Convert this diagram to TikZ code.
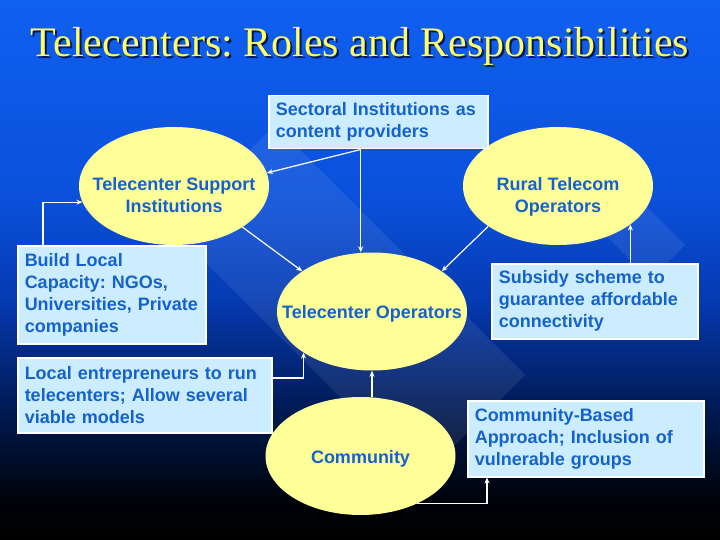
\documentclass[tikz,border=0pt]{standalone}
\usepackage{fontspec}
\setmainfont{Liberation Serif}
\setsansfont{Liberation Sans}
\usetikzlibrary{shapes.geometric,arrows.meta}
\frenchspacing
\definecolor{slidetop}{RGB}{16,96,242}
\definecolor{slideup}{RGB}{10,80,218}
\definecolor{slidemid}{RGB}{5,58,178}
\definecolor{slidelow}{RGB}{2,34,108}
\definecolor{slidedeep}{RGB}{0,18,58}
\definecolor{ovalfill}{RGB}{255,255,153}
\definecolor{boxfill}{RGB}{204,236,255}
\definecolor{labelblue}{RGB}{22,98,204}
\definecolor{titleyellow}{RGB}{255,255,102}
\definecolor{titleshade}{RGB}{0,22,80}
\pgfdeclareverticalshading{slidebg}{100bp}{color(0bp)=(black); color(25bp)=(black); color(28.7bp)=(black!85!slidedeep); color(34.3bp)=(slidedeep); color(39.8bp)=(slidelow); color(47.2bp)=(slidemid); color(56.5bp)=(slideup); color(75bp)=(slidetop); color(100bp)=(slidetop)}
\newcommand{\ovaltext}[2][-7pt]{\makebox[0pt]{\raisebox{#1}[0pt][0pt]{\begin{tabular}{@{}c@{}}#2\end{tabular}}}}
\begin{document}
\begin{tikzpicture}[x=1pt,y=-1pt,
    oval/.style={ellipse,fill=ovalfill,minimum width=190pt,minimum height=118pt,inner sep=0pt,text=labelblue,font=\sffamily\bfseries\fontsize{18}{22}\selectfont},
    note/.style={rectangle,draw=white,line width=1.5pt,fill=boxfill,anchor=north west,inner xsep=7pt,inner ysep=0pt,text=labelblue,align=left,font=\sffamily\bfseries\fontsize{18}{22}\selectfont},
    flow/.style={draw=white,line width=1.2pt,-{Stealth[length=6pt,width=5pt]}},
    stripe/.style={fill=white,opacity=0.08},
    headline/.style={anchor=base,font=\fontsize{42}{48}\selectfont}]
    \shade[shading=slidebg] (0,0) rectangle (720,540);
    \fill[stripe] (171.5,228.5) -- (275,125) -- (525,375) -- (421.5,478.5) -- cycle;
    \fill[stripe] (535,165) -- (570,130) -- (685,245) -- (650,280) -- cycle;

    \node[headline,text=titleshade] (titleshadow) at (362,59) {Telecenters: Roles and Responsibilities};
    \node[headline,text=titleyellow] (title) at (360,57) {Telecenters: Roles and Responsibilities};

    \node[oval] (tsi) at (174,186) {\ovaltext[-15.5pt]{Telecenter Support\\Institutions}};
    \node[oval] (rural) at (558,186) {\ovaltext[-15.5pt]{Rural Telecom\\Operators}};
    \node[oval] (tco) at (372,311.5) {\ovaltext{Telecenter Operators}};
    \node[oval] (comm) at (360.5,456) {\ovaltext{Community}};

    \node[note,text width=205pt,minimum height=53pt] (sect) at (268,95) {Sectoral Institutions as\\content providers};
    \node[note,text width=174pt,minimum height=98pt] (build) at (17,245) {Build Local\\Capacity: NGOs,\\Universities, Private\\companies};
    \node[note,text width=240pt,minimum height=75pt] (local) at (17,357) {Local entrepreneurs to run\\telecenters; Allow several\\viable models};
    \node[note,text width=192pt,minimum height=75pt] (subsidy) at (491,263) {Subsidy scheme to\\guarantee affordable\\connectivity};
    \node[note,text width=222pt,minimum height=76pt] (cba) at (467,400) {Community-Based\\Approach; Inclusion of\\vulnerable groups};

    \draw[flow] ([xshift=-17.5pt]sect.south) -- ([xshift=-17.5pt]sect.south |- tco.north);
    \draw[flow] ([xshift=-17.5pt]sect.south) -- (tsi.8);
    \draw[flow] (tsi.-31) -- (tco.150);
    \draw[flow] (rural.-150) -- (tco.30);
    \draw[flow] ([xshift=26pt]build.north west) |- (tsi.190);
    \draw[flow] (rural.-28 |- subsidy.north) -- (rural.-28);
    \draw[flow] ([yshift=-21pt]local.north east) -| (tco.211);
    \draw[flow] (tco.south |- comm.north) -- (tco.south);
    \draw[flow] (comm.-40) -| ([xshift=20pt]cba.south west);
\end{tikzpicture}
\end{document}
